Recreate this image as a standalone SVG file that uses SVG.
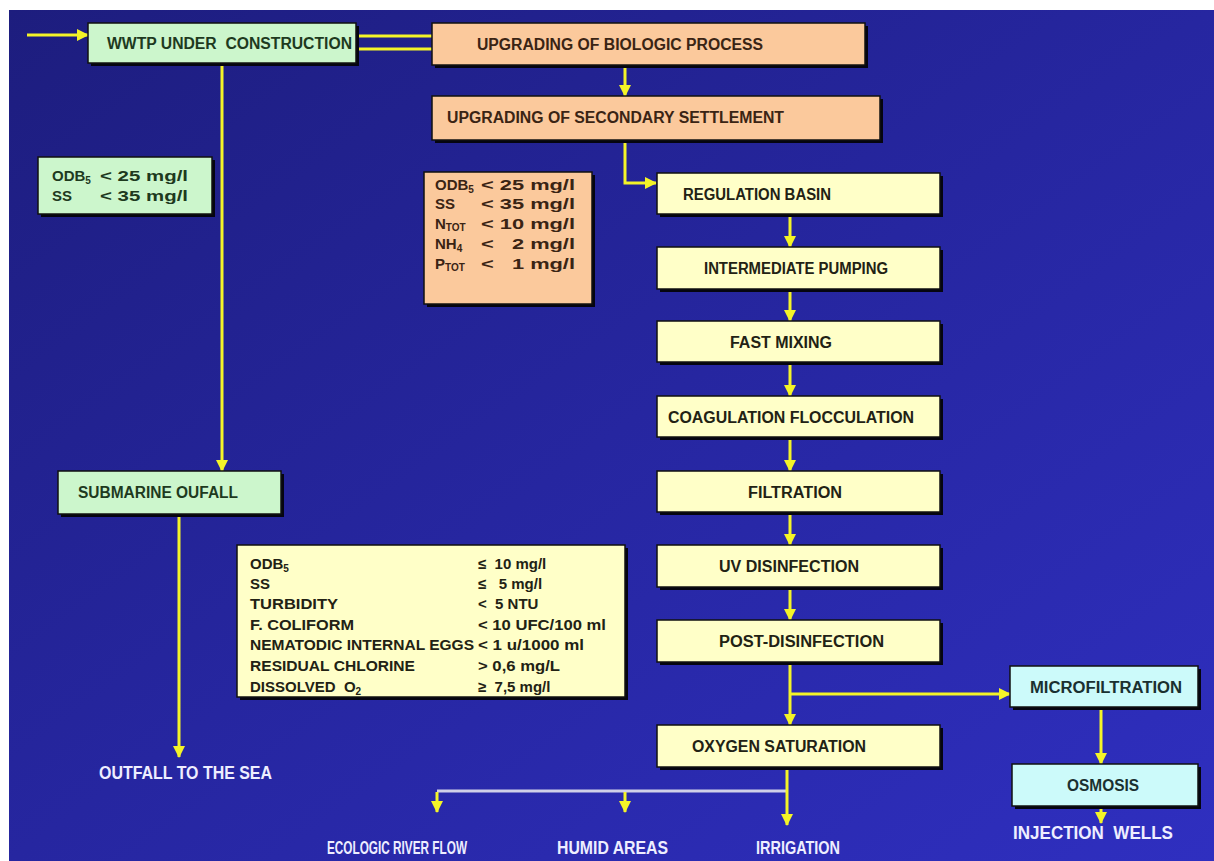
<svg xmlns="http://www.w3.org/2000/svg" width="1214" height="861" viewBox="0 0 1214 861">
<defs>
<linearGradient id="bg" x1="0" y1="0" x2="1" y2="1">
<stop offset="0" stop-color="#1d1d7e"/>
<stop offset="0.5" stop-color="#2626a0"/>
<stop offset="1" stop-color="#2f2fc0"/>
</linearGradient>
<marker id="arr" markerUnits="userSpaceOnUse" markerWidth="14" markerHeight="14" refX="11" refY="7" orient="auto">
<path d="M0,1 L12,7 L0,13 z" fill="#f4f428"/>
</marker>
<style>
.ln{stroke:#f4f428;stroke-width:3;fill:none}
.wl{stroke:#d0d0e8;stroke-width:3;fill:none}
.sh{fill:#050510}
.bx{stroke:#101010;stroke-width:1.5}
.g{fill:#ccf6cc}
.p{fill:#fbc99c}
.y{fill:#ffffc8}
.c{fill:#ccfafa}
text{font-family:"Liberation Sans",Arial,sans-serif;font-weight:bold;font-size:16px;white-space:pre}
.lm{font-size:15px}
.tg{fill:#1e3a1e}
.tp{fill:#3a2414}
.ty{fill:#222214}
.tc{fill:#1a3030}
.tw{fill:#eeeeff;font-size:18px}
.sub{font-size:10px}
</style>
</defs>
<rect x="0" y="0" width="1214" height="861" fill="#ffffff"/>
<rect x="9" y="10" width="1205" height="851" fill="url(#bg)"/>

<g id="connectors">
<line class="ln" x1="27" y1="35" x2="88" y2="35" marker-end="url(#arr)"/>
<line class="ln" x1="356" y1="36" x2="432" y2="36"/>
<line class="ln" x1="356" y1="49" x2="432" y2="49"/>
<line class="ln" x1="625" y1="66" x2="625" y2="96" marker-end="url(#arr)"/>
<path class="ln" d="M625,141 V183 H656" marker-end="url(#arr)"/>
<line class="ln" x1="222" y1="64" x2="222" y2="471" marker-end="url(#arr)"/>
<line class="ln" x1="179" y1="516" x2="179" y2="757" marker-end="url(#arr)"/>
<line class="ln" x1="790" y1="215" x2="790" y2="247" marker-end="url(#arr)"/>
<line class="ln" x1="790" y1="290" x2="790" y2="321" marker-end="url(#arr)"/>
<line class="ln" x1="790" y1="363" x2="790" y2="396" marker-end="url(#arr)"/>
<line class="ln" x1="790" y1="438" x2="790" y2="471" marker-end="url(#arr)"/>
<line class="ln" x1="790" y1="513" x2="790" y2="545" marker-end="url(#arr)"/>
<line class="ln" x1="790" y1="588" x2="790" y2="620" marker-end="url(#arr)"/>
<line class="ln" x1="790" y1="663" x2="790" y2="725" marker-end="url(#arr)"/>
<line class="ln" x1="790" y1="694" x2="1010" y2="694" marker-end="url(#arr)"/>
<line class="ln" x1="1101" y1="708" x2="1101" y2="764" marker-end="url(#arr)"/>
<line class="ln" x1="1101" y1="807" x2="1101" y2="823" marker-end="url(#arr)"/>
<line class="wl" x1="437" y1="791" x2="787" y2="791"/>
<line class="ln" x1="787" y1="768" x2="787" y2="825" marker-end="url(#arr)"/>
<line class="ln" x1="437" y1="792" x2="437" y2="812" marker-end="url(#arr)"/>
<line class="ln" x1="625" y1="792" x2="625" y2="812" marker-end="url(#arr)"/>
</g>

<g id="wwtp">
<rect class="sh" x="91" y="26" width="268" height="40"/>
<rect class="bx g" x="88" y="23" width="268" height="40"/>
<text class="tg" x="107" y="49" textLength="245" lengthAdjust="spacingAndGlyphs">WWTP UNDER  CONSTRUCTION</text>
</g>

<g id="biologic">
<rect class="sh" x="435" y="26" width="433" height="42"/>
<rect class="bx p" x="432" y="23" width="433" height="42"/>
<text class="tp" x="477" y="50" textLength="286" lengthAdjust="spacingAndGlyphs">UPGRADING OF BIOLOGIC PROCESS</text>
</g>

<g id="secondary">
<rect class="sh" x="435" y="99" width="448" height="44"/>
<rect class="bx p" x="432" y="96" width="448" height="44"/>
<text class="tp" x="447" y="123" textLength="337" lengthAdjust="spacingAndGlyphs">UPGRADING OF SECONDARY SETTLEMENT</text>
</g>

<g id="limits-outfall">
<rect class="sh" x="41" y="160" width="174" height="57"/>
<rect class="bx g" x="38" y="157" width="174" height="57"/>
<text class="tg lm" x="52" y="181">ODB<tspan class="sub" dy="3">5</tspan></text>
<text class="tg lm" x="100" y="181" textLength="88" lengthAdjust="spacingAndGlyphs">&lt; 25 mg/l</text>
<text class="tg lm" x="52" y="201">SS</text>
<text class="tg lm" x="100" y="201" textLength="88" lengthAdjust="spacingAndGlyphs">&lt; 35 mg/l</text>
</g>

<g id="limits-secondary">
<rect class="sh" x="427" y="175" width="168" height="132"/>
<rect class="bx p" x="424" y="172" width="168" height="132"/>
<text class="tp lm" x="435" y="190">ODB<tspan class="sub" dy="3">5</tspan></text>
<text class="tp lm" x="481" y="190" textLength="94" lengthAdjust="spacingAndGlyphs">&lt; 25 mg/l</text>
<text class="tp lm" x="435" y="209">SS</text>
<text class="tp lm" x="481" y="209" textLength="94" lengthAdjust="spacingAndGlyphs">&lt; 35 mg/l</text>
<text class="tp lm" x="435" y="229">N<tspan class="sub" dy="2">TOT</tspan></text>
<text class="tp lm" x="481" y="229" textLength="94" lengthAdjust="spacingAndGlyphs">&lt; 10 mg/l</text>
<text class="tp lm" x="435" y="249">NH<tspan class="sub" dy="3">4</tspan></text>
<text class="tp lm" x="481" y="249" textLength="94" lengthAdjust="spacingAndGlyphs">&lt;   2 mg/l</text>
<text class="tp lm" x="435" y="269">P<tspan class="sub" dy="2">TOT</tspan></text>
<text class="tp lm" x="481" y="269" textLength="94" lengthAdjust="spacingAndGlyphs">&lt;   1 mg/l</text>
</g>

<g id="regulation">
<rect class="sh" x="660" y="176" width="283" height="41"/>
<rect class="bx y" x="657" y="173" width="283" height="41"/>
<text class="ty" x="683" y="200" textLength="148" lengthAdjust="spacingAndGlyphs">REGULATION BASIN</text>
</g>
<g id="pumping">
<rect class="sh" x="660" y="250" width="283" height="42"/>
<rect class="bx y" x="657" y="247" width="283" height="42"/>
<text class="ty" x="704" y="274" textLength="184" lengthAdjust="spacingAndGlyphs">INTERMEDIATE PUMPING</text>
</g>
<g id="mixing">
<rect class="sh" x="660" y="324" width="283" height="41"/>
<rect class="bx y" x="657" y="321" width="283" height="41"/>
<text class="ty" x="730" y="348" textLength="102" lengthAdjust="spacingAndGlyphs">FAST MIXING</text>
</g>
<g id="coagulation">
<rect class="sh" x="660" y="399" width="283" height="41"/>
<rect class="bx y" x="657" y="396" width="283" height="41"/>
<text class="ty" x="668" y="423" textLength="246" lengthAdjust="spacingAndGlyphs">COAGULATION FLOCCULATION</text>
</g>
<g id="filtration">
<rect class="sh" x="660" y="474" width="283" height="41"/>
<rect class="bx y" x="657" y="471" width="283" height="41"/>
<text class="ty" x="748" y="498" textLength="94" lengthAdjust="spacingAndGlyphs">FILTRATION</text>
</g>
<g id="uv">
<rect class="sh" x="660" y="548" width="283" height="42"/>
<rect class="bx y" x="657" y="545" width="283" height="42"/>
<text class="ty" x="719" y="572" textLength="140" lengthAdjust="spacingAndGlyphs">UV DISINFECTION</text>
</g>
<g id="post">
<rect class="sh" x="660" y="623" width="283" height="42"/>
<rect class="bx y" x="657" y="620" width="283" height="42"/>
<text class="ty" x="719" y="647" textLength="165" lengthAdjust="spacingAndGlyphs">POST-DISINFECTION</text>
</g>
<g id="oxygen">
<rect class="sh" x="660" y="728" width="283" height="42"/>
<rect class="bx y" x="657" y="725" width="283" height="42"/>
<text class="ty" x="692" y="752" textLength="174" lengthAdjust="spacingAndGlyphs">OXYGEN SATURATION</text>
</g>

<g id="microfiltration">
<rect class="sh" x="1013" y="669" width="188" height="41"/>
<rect class="bx c" x="1010" y="666" width="188" height="41"/>
<text class="tc" x="1030" y="693" textLength="152" lengthAdjust="spacingAndGlyphs">MICROFILTRATION</text>
</g>
<g id="osmosis">
<rect class="sh" x="1015" y="767" width="186" height="42"/>
<rect class="bx c" x="1012" y="764" width="186" height="42"/>
<text class="tc" x="1067" y="791" textLength="72" lengthAdjust="spacingAndGlyphs">OSMOSIS</text>
</g>

<g id="submarine">
<rect class="sh" x="61" y="474" width="223" height="43"/>
<rect class="bx g" x="58" y="471" width="223" height="43"/>
<text class="tg" x="78" y="498" textLength="160" lengthAdjust="spacingAndGlyphs">SUBMARINE OUFALL</text>
</g>

<g id="limits-reuse">
<rect class="sh" x="240" y="548" width="388" height="152"/>
<rect class="bx y" x="237" y="545" width="388" height="152"/>
<text class="ty lm" x="250" y="569">ODB<tspan class="sub" dy="3">5</tspan></text>
<text class="ty lm" x="478" y="569">≤  10 mg/l</text>
<text class="ty lm" x="250" y="589">SS</text>
<text class="ty lm" x="478" y="589">≤   5 mg/l</text>
<text class="ty lm" x="250" y="609" textLength="88" lengthAdjust="spacingAndGlyphs">TURBIDITY</text>
<text class="ty lm" x="478" y="609">&lt;  5 NTU</text>
<text class="ty lm" x="250" y="630" textLength="104" lengthAdjust="spacingAndGlyphs">F. COLIFORM</text>
<text class="ty lm" x="478" y="630" textLength="128" lengthAdjust="spacingAndGlyphs">&lt; 10 UFC/100 ml</text>
<text class="ty lm" x="250" y="650" textLength="224" lengthAdjust="spacingAndGlyphs">NEMATODIC INTERNAL EGGS</text>
<text class="ty lm" x="478" y="650" textLength="106" lengthAdjust="spacingAndGlyphs">&lt; 1 u/1000 ml</text>
<text class="ty lm" x="250" y="671" textLength="165" lengthAdjust="spacingAndGlyphs">RESIDUAL CHLORINE</text>
<text class="ty lm" x="478" y="671" textLength="82" lengthAdjust="spacingAndGlyphs">&gt; 0,6 mg/L</text>
<text class="ty lm" x="250" y="692">DISSOLVED  O<tspan class="sub" dy="3">2</tspan></text>
<text class="ty lm" x="478" y="692">≥  7,5 mg/l</text>
</g>

<g id="labels">
<text class="tw" x="99" y="779" textLength="173" lengthAdjust="spacingAndGlyphs">OUTFALL TO THE SEA</text>
<text class="tw" x="327" y="854" textLength="140" lengthAdjust="spacingAndGlyphs">ECOLOGIC RIVER FLOW</text>
<text class="tw" x="557" y="854" textLength="111" lengthAdjust="spacingAndGlyphs">HUMID AREAS</text>
<text class="tw" x="756" y="854" textLength="84" lengthAdjust="spacingAndGlyphs">IRRIGATION</text>
<text class="tw" x="1013" y="839" textLength="160" lengthAdjust="spacingAndGlyphs">INJECTION  WELLS</text>
</g>
</svg>
